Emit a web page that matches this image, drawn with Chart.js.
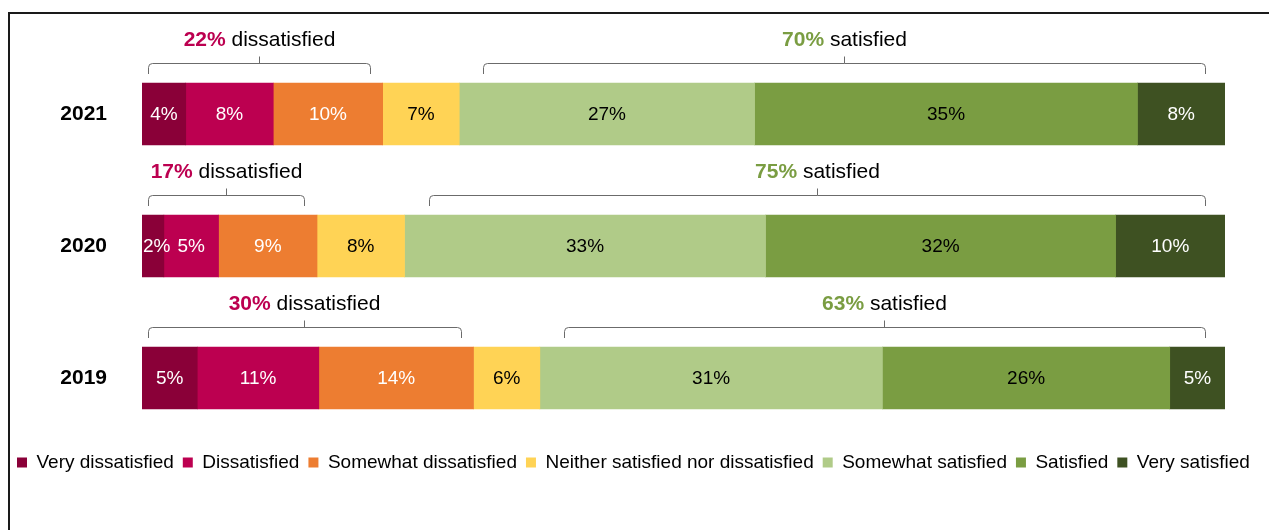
<!DOCTYPE html>
<html>
<head>
    <title>Satisfaction by Year</title>
    <script src="https://cdn.jsdelivr.net/npm/chart.js"></script>
    <style>
        body {
            margin: 0;
            background: #fff;
        }
        #chartBox {
            width: 1269px;
            height: 530px;
        }
    </style>
</head>
<body>
    <div id="chartBox">
        <canvas id="myChart" width="1269" height="530"></canvas>
    </div>

    <script>
        const FONT = "'Liberation Sans', Arial, sans-serif";

        // Survey results, one value per year
        const years = ['2021', '2020', '2019'];
        const responses = [
            'Very dissatisfied', 'Dissatisfied', 'Somewhat dissatisfied',
            'Neither satisfied nor dissatisfied', 'Somewhat satisfied',
            'Satisfied', 'Very satisfied'
        ];
        const veryDissatisfied = [4, 2, 5];
        const dissatisfied = [8, 5, 11];
        const somewhatDissatisfied = [10, 9, 14];
        const neither = [7, 8, 6];
        const somewhatSatisfied = [27, 33, 31];
        const satisfied = [35, 32, 26];
        const verySatisfied = [8, 10, 5];

        // Rounded totals shown above the brackets
        const dissatisfiedTotal = [22, 17, 30];
        const satisfiedTotal = [70, 75, 63];

        const seriesValues = [
            veryDissatisfied, dissatisfied, somewhatDissatisfied, neither,
            somewhatSatisfied, satisfied, verySatisfied
        ];
        const seriesColors = [
            '#8A0038', '#BC0050', '#ED7D31', '#FFD355',
            '#B0CB88', '#7A9D42', '#3E5122'
        ];
        const labelColors = ['#fff', '#fff', '#fff', '#000', '#000', '#000', '#fff'];

        const rowTotals = years.map((_, i) => seriesValues.reduce((sum, s) => sum + s[i], 0));

        // every row fills the full width (100% stacked bar)
        const datasets = responses.map((name, k) => ({
            label: name,
            data: seriesValues[k].map((v, i) => v / rowTotals[i] * 100),
            backgroundColor: seriesColors[k],
            borderWidth: 0,
            barThickness: 62,
            xAxisID: 'x',
            yAxisID: 'y'
        }));

        // percentage text inside each segment
        const segmentLabels = {
            id: 'segmentLabels',
            afterDatasetsDraw(chart) {
                const ctx = chart.ctx;
                ctx.save();
                ctx.font = '19px ' + FONT;
                ctx.textAlign = 'center';
                ctx.textBaseline = 'middle';
                chart.data.datasets.forEach((ds, k) => {
                    chart.getDatasetMeta(k).data.forEach((bar, i) => {
                        const text = seriesValues[k][i] + '%';
                        const left = Math.min(bar.x, bar.base);
                        const right = Math.max(bar.x, bar.base);
                        const w = ctx.measureText(text).width;
                        let cx = (left + right) / 2;
                        if (w > right - left) cx = left + 1 + w / 2;
                        ctx.fillStyle = labelColors[k];
                        ctx.fillText(text, cx, bar.y + 1);
                    });
                });
                ctx.restore();
            }
        };

        function drawBrace(ctx, x0, x1, top, pct, word, color) {
            const yLine = Math.round(top - 20) + 0.5;
            const yEnd = top - 9;
            const r = 4;
            const mid = Math.round((x0 + x1) / 2) + 0.5;
            x0 = Math.round(x0) + 0.5;
            x1 = Math.round(x1) + 0.5;

            ctx.save();
            ctx.strokeStyle = '#6b6b6b';
            ctx.lineWidth = 1;
            ctx.beginPath();
            ctx.moveTo(x0, yEnd);
            ctx.arcTo(x0, yLine, x0 + r, yLine, r);
            ctx.lineTo(x1 - r, yLine);
            ctx.arcTo(x1, yLine, x1, yLine + r, r);
            ctx.lineTo(x1, yEnd);
            ctx.moveTo(mid, yLine);
            ctx.lineTo(mid, yLine - 7);
            ctx.stroke();

            ctx.textAlign = 'left';
            ctx.textBaseline = 'alphabetic';
            ctx.font = 'bold 21px ' + FONT;
            const w1 = ctx.measureText(pct).width;
            ctx.font = '21px ' + FONT;
            const w2 = ctx.measureText(word).width;
            const sx = mid - (w1 + w2) / 2;
            const baseY = top - 37;
            ctx.font = 'bold 21px ' + FONT;
            ctx.fillStyle = color;
            ctx.fillText(pct, sx, baseY);
            ctx.font = '21px ' + FONT;
            ctx.fillStyle = '#000';
            ctx.fillText(word, sx + w1, baseY);
            ctx.restore();
        }

        // brackets grouping the dissatisfied and satisfied segments
        const brackets = {
            id: 'brackets',
            afterDatasetsDraw(chart) {
                const ctx = chart.ctx;
                const first = chart.getDatasetMeta(0).data;
                const third = chart.getDatasetMeta(2).data;
                const fifth = chart.getDatasetMeta(4).data;
                const last = chart.getDatasetMeta(6).data;
                years.forEach((year, i) => {
                    const top = first[i].y - first[i].height / 2;
                    drawBrace(ctx, first[i].base + 6, third[i].x - 13, top,
                        dissatisfiedTotal[i] + '%', ' dissatisfied', seriesColors[1]);
                    drawBrace(ctx, fifth[i].base + 24, last[i].x - 20, top,
                        satisfiedTotal[i] + '%', ' satisfied', seriesColors[5]);
                });
            }
        };

        // top and left border lines
        const frame = {
            id: 'frame',
            afterDraw(chart) {
                const ctx = chart.ctx;
                ctx.save();
                ctx.fillStyle = '#1a1a1a';
                ctx.fillRect(8, 12, chart.width, 2);
                ctx.fillRect(8, 12, 2, chart.height);
                ctx.restore();
            }
        };

        const ctx = document.getElementById('myChart').getContext('2d');
        new Chart(ctx, {
            type: 'bar',
            data: {
                labels: years,
                datasets: datasets
            },
            options: {
                indexAxis: 'y',
                responsive: false,
                animation: false,
                layout: {
                    padding: { left: 8, right: 0, top: 48, bottom: 48 }
                },
                scales: {
                    x: {
                        stacked: true,
                        min: 0,
                        max: 100,
                        display: false
                    },
                    y: {
                        stacked: true,
                        grid: { display: false },
                        border: { display: false },
                        ticks: {
                            padding: 27,
                            color: '#000',
                            font: { family: FONT, size: 21, weight: 'bold' }
                        },
                        afterFit(scale) {
                            scale.width = 134;
                        }
                    },
                    pad: {
                        type: 'linear',
                        position: 'right',
                        grid: { display: false },
                        border: { display: false },
                        ticks: { display: false },
                        afterFit(scale) {
                            scale.width = 44;
                        }
                    }
                },
                plugins: {
                    legend: {
                        position: 'bottom',
                        align: 'start',
                        labels: {
                            boxWidth: 10,
                            boxHeight: 10,
                            padding: 9,
                            color: '#000',
                            font: { family: FONT, size: 19 }
                        }
                    },
                    tooltip: { enabled: false }
                }
            },
            plugins: [segmentLabels, brackets, frame]
        });
    </script>
</body>
</html>
